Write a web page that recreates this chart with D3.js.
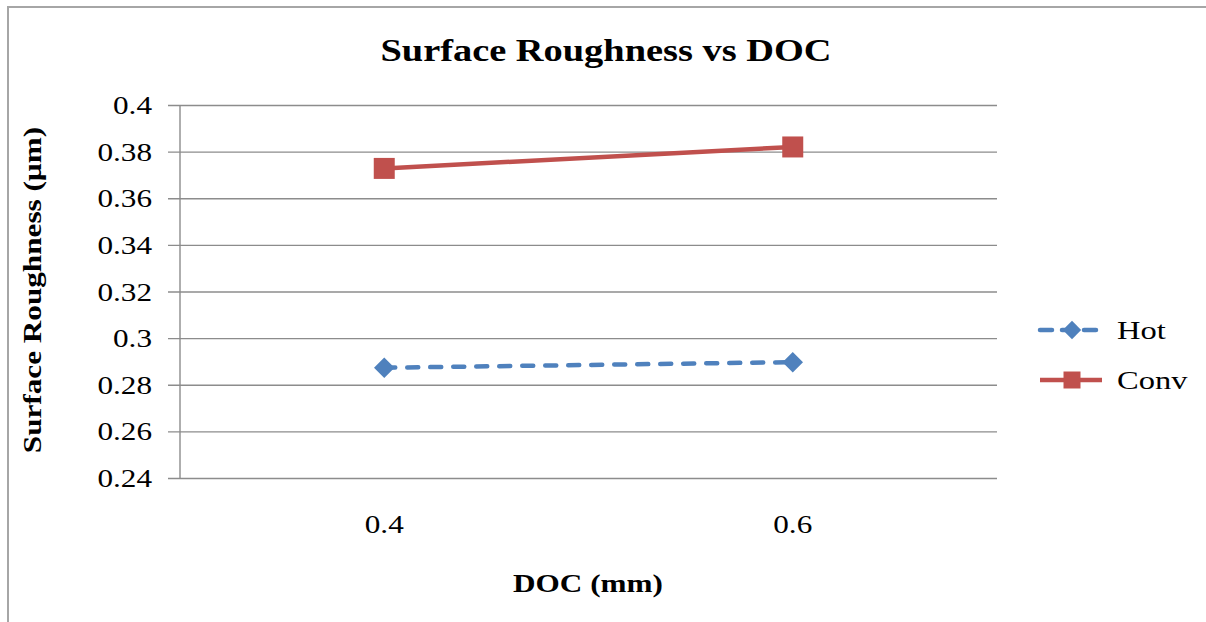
<!DOCTYPE html>
<html><head><meta charset="utf-8">
<script src="https://cdn.jsdelivr.net/npm/d3@7"></script>
<style>html,body{margin:0;padding:0;background:#fff;overflow:hidden}</style>
</head><body>
<svg id="c" width="1206" height="622"></svg>
<script>
const categories = ["0.4", "0.6"];
const hotValues = [0.2873, 0.2897];
const convValues = [0.3728, 0.3820];
const seriesNames = ["Hot", "Conv"];
const yTicks = [0.24, 0.26, 0.28, 0.30, 0.32, 0.34, 0.36, 0.38, 0.40];
const yTickLabels = ["0.24","0.26","0.28","0.3","0.32","0.34","0.36","0.38","0.4"];
const titleText = "Surface Roughness vs DOC";
const xTitle = "DOC (mm)";
const yTitle = "Surface Roughness (µm)";

const svg = d3.select("#c");
const font = "'Liberation Serif','Times New Roman',serif";
const blue = "#4F81BD", red = "#C0504D", grid = "#8C8C8C";
const K = 1.2; // horizontal stretch seen in the reference text

// outer frame
svg.append("path").attr("d","M8,640 L8,7 L1220,7").attr("fill","none").attr("stroke","#A6A6A6").attr("stroke-width",2);

const L = 180, R = 997, T = 105, B = 478;
const x = d3.scaleBand().domain(categories).range([L, R]);
const y = d3.scaleLinear().domain([0.24, 0.40]).range([B, T]);

// gridlines + y axis
const yAxis = d3.axisLeft(y).tickValues(yTicks).tickSize(-(R - L)).tickPadding(16)
  .tickFormat((d,i) => yTickLabels[i]);
const gy = svg.append("g").attr("transform", `translate(${L},0)`).call(yAxis)
  .attr("font-family", font).attr("font-size", 26);
gy.select(".domain").remove();
gy.selectAll(".tick line").attr("stroke", grid).attr("stroke-width", 1.4).attr("x1", -12);
gy.selectAll(".tick text").attr("fill", "#000").attr("x", -28 / K).attr("dy", "0.33em")
  .attr("transform", `scale(${K},1)`);
svg.append("line").attr("x1", L).attr("x2", L).attr("y1", T).attr("y2", B).attr("stroke", grid).attr("stroke-width", 1.4);

// x axis labels
const xAxis = d3.axisBottom(x).tickSize(0).tickPadding(37);
const gx = svg.append("g").attr("transform", `translate(0,${B})`).call(xAxis)
  .attr("font-family", font).attr("font-size", 26);
gx.select(".domain").remove();
gx.selectAll(".tick text").attr("fill", "#000").attr("transform", `scale(${K},1)`);

const cx = d => x(d) + x.bandwidth() / 2;

// lines
const line = d3.line().x((d, i) => cx(categories[i])).y(d => y(d));
svg.append("path").datum(convValues).attr("d", line).attr("fill", "none").attr("stroke", red).attr("stroke-width", 4.5);
svg.append("path").datum(hotValues).attr("d", line).attr("fill", "none").attr("stroke", blue).attr("stroke-width", 4.5)
  .attr("stroke-dasharray", "11,12").attr("stroke-linecap", "round");

// markers
const sq = d3.symbol().type(d3.symbolSquare).size(21 * 21);
const dia = d3.symbol().type(d3.symbolSquare).size(14.5 * 14.5);
const diaLeg = d3.symbol().type(d3.symbolSquare).size(13 * 13);
svg.selectAll(".conv").data(convValues).enter().append("path")
  .attr("d", sq).attr("fill", red)
  .attr("transform", (d, i) => `translate(${cx(categories[i])},${y(d)})`);
svg.selectAll(".hot").data(hotValues).enter().append("path")
  .attr("d", dia).attr("fill", blue)
  .attr("transform", (d, i) => `translate(${cx(categories[i])},${y(d)}) rotate(45)`);

// titles
svg.append("text").attr("transform", `translate(606,61) scale(${K},1)`).attr("text-anchor", "middle")
  .attr("font-family", font).attr("font-weight", "bold").attr("font-size", 32).text(titleText);
svg.append("text").attr("transform", `translate(588,592) scale(${K},1)`).attr("text-anchor", "middle")
  .attr("font-family", font).attr("font-weight", "bold").attr("font-size", 26).text(xTitle);
svg.append("text").attr("transform", `translate(41,290) rotate(-90) scale(${K},1)`).attr("text-anchor", "middle")
  .attr("font-family", font).attr("font-weight", "bold").attr("font-size", 26).text(yTitle);

// legend
const leg = [{name: seriesNames[0], color: blue, dash: true, y: 330}, {name: seriesNames[1], color: red, dash: false, y: 380}];
leg.forEach(l => {
  svg.append("line").attr("x1", 1040).attr("x2", 1102).attr("y1", l.y).attr("y2", l.y)
    .attr("stroke", l.color).attr("stroke-width", 4.5)
    .attr("stroke-dasharray", l.dash ? "12,10" : null).attr("stroke-linecap", l.dash ? "round" : "butt");
  svg.append("path").attr("d", l.dash ? diaLeg : d3.symbol().type(d3.symbolSquare).size(17 * 17))
    .attr("fill", l.color)
    .attr("transform", `translate(1072,${l.y})` + (l.dash ? " rotate(45)" : ""));
  svg.append("text").attr("transform", `translate(1117,${l.y + 8.5}) scale(1.25,1)`)
    .attr("font-family", font).attr("font-size", 26).text(l.name);
});
</script>
</body></html>
